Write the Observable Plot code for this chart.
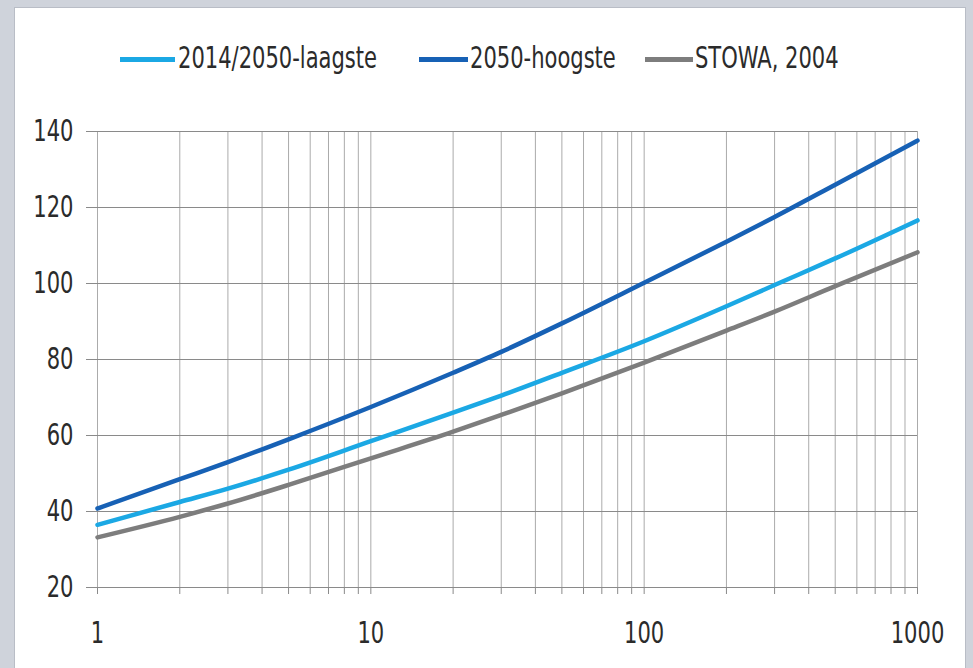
<!DOCTYPE html>
<html>
<head>
<meta charset="utf-8">
<script src="https://cdn.jsdelivr.net/npm/d3@7"></script>
<script src="https://cdn.jsdelivr.net/npm/@observablehq/plot@0.6"></script>
<style>
  html, body { margin: 0; padding: 0; }
  body { width: 973px; height: 668px; background: #cfd3db; position: relative; overflow: hidden;
         font-family: "DejaVu Sans Condensed", "DejaVu Sans", sans-serif; }
  #panel { position: absolute; left: 14px; top: 7px; width: 952px; height: 680px; background: #fff;
           border: 1px solid #b9bdc6; box-sizing: border-box; }
  .sw { position: absolute; height: 5px; top: 57px; }
  .lt { position: absolute; top: 40px; font-size: 30px; line-height: 36px; color: #2b2b2b; white-space: nowrap;
        transform: scaleX(0.78); transform-origin: 0 50%; }
  #chart { position: absolute; left: 0; top: 100px; }
</style>
</head>
<body>
<div id="panel"></div>
<div id="legend"></div>
<div id="chart"></div>
<script>
// x values (return period) and series values
const xs      = [1, 2, 3, 5, 10, 20, 30, 50, 100, 200, 300, 500, 1000];
const laagste = [36.5, 42.5, 46, 51, 58.5, 66, 70.5, 76.5, 84.8, 94, 99.6, 106.6, 116.6];
const hoogste = [40.8, 48.5, 53, 59, 67.5, 76.5, 82, 89.5, 100.2, 111, 117.5, 126, 137.6];
const stowa   = [33.2, 38.6, 42.1, 47, 54, 61, 65.4, 71.1, 79.2, 87.6, 92.6, 99.3, 108.2];
const seriesNames = ["2014/2050-laagste", "2050-hoogste", "STOWA, 2004"];
const seriesColors = ["#1ba8e4", "#1761b5", "#7d7d7d"];
const yTicks = [20, 40, 60, 80, 100, 120, 140];
const xDecades = [1, 10, 100, 1000];

const xMinor = xDecades.flatMap(d => d3.range(1, 10).map(k => k * d)).filter(v => v <= 1000);

const rows = [];
[laagste, hoogste, stowa].forEach((vals, i) => {
  xs.forEach((x, j) => rows.push({ x, y: vals[j], s: seriesNames[i] }));
});

// legend (HTML)
const legendPos = [[120, 55, 178], [419, 49, 470], [645, 48, 695]];
const legend = document.getElementById("legend");
seriesNames.forEach((name, i) => {
  const [l, w, t] = legendPos[i];
  const sw = document.createElement("div");
  sw.className = "sw";
  sw.style.left = l + "px"; sw.style.width = w + "px"; sw.style.background = seriesColors[i];
  legend.appendChild(sw);
  const tx = document.createElement("div");
  tx.className = "lt";
  tx.style.left = t + "px";
  tx.textContent = name;
  legend.appendChild(tx);
});

const chart = Plot.plot({
  width: 973,
  height: 568,
  marginLeft: 97,
  marginRight: 56,
  marginTop: 31,
  marginBottom: 81,
  style: {
    background: "transparent",
    fontFamily: '"DejaVu Sans Condensed", "DejaVu Sans", sans-serif',
    fontSize: "30px",
    color: "#2b2b2b",
    overflow: "visible"
  },
  x: { type: "log", domain: [1, 1000] },
  y: { domain: [20, 140] },
  color: { domain: seriesNames, range: seriesColors },
  marks: [
    Plot.ruleX(xMinor, { stroke: "#ababab", strokeWidth: 1 }),
    Plot.ruleY(yTicks, { stroke: "#8a8a8a", strokeWidth: 1.2 }),
    Plot.axisY({ ticks: yTicks, tickSize: 11, tickPadding: 13, label: null, stroke: "#8a8a8a" }),
    Plot.axisX({ ticks: xMinor, tickSize: 7, tickPadding: 27, label: null, stroke: "#8a8a8a",
                 tickFormat: d => xDecades.includes(d) ? String(d) : "" }),
    Plot.line(rows, { x: "x", y: "y", z: "s", stroke: "s", strokeWidth: 4.5, curve: "monotone-x" })
  ]
});
document.getElementById("chart").appendChild(chart);
// condense the tick labels horizontally (the reference uses a narrow face)
chart.querySelectorAll("text").forEach(t => {
  if (!t.textContent) return;
  const len = t.getComputedTextLength();
  if (len > 0) {
    t.setAttribute("textLength", (len * 0.78).toFixed(2));
    t.setAttribute("lengthAdjust", "spacingAndGlyphs");
  }
});
</script>
</body>
</html>
